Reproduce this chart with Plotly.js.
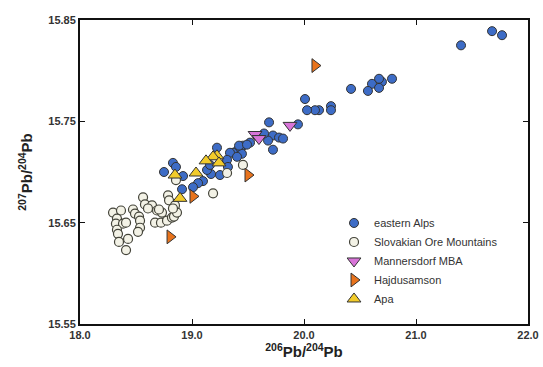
<!DOCTYPE html>
<html>
<head>
<meta charset="utf-8">
<script src="https://cdn.plot.ly/plotly-3.0.1.min.js"></script>
<style>html,body{margin:0;padding:0;background:#fff;}#chart{width:543px;height:367px;}</style>
</head>
<body>
<div id="chart"></div>
<script>
// eastern Alps
const alpsX = [21.679,21.768,21.402,20.786,20.696,20.670,20.607,20.670,20.571,20.420,20.241,20.241,20.134,20.098,20.027,20.009,19.946,19.688,19.723,19.777,19.813,19.723,19.679,19.643,19.518,19.455,19.429,19.402,19.366,19.446,19.223,18.830,18.857,18.750,18.920,19.339,19.420,19.491,19.402,19.313,19.321,19.250,19.170,19.134,19.098,19.054,19.009,18.911,19.161];
const alpsY = [15.839,15.835,15.825,15.792,15.789,15.792,15.787,15.783,15.780,15.782,15.765,15.761,15.761,15.761,15.761,15.772,15.747,15.749,15.736,15.734,15.733,15.722,15.731,15.738,15.729,15.726,15.722,15.721,15.719,15.718,15.724,15.709,15.705,15.700,15.696,15.719,15.726,15.727,15.715,15.712,15.705,15.697,15.698,15.702,15.691,15.689,15.685,15.683,15.707];
// Slovakian Ore Mountains
const slovX = [18.295,18.366,18.330,18.321,18.384,18.411,18.330,18.339,18.429,18.348,18.411,18.473,18.491,18.527,18.536,18.536,18.518,18.563,18.580,18.643,18.607,18.688,18.732,18.670,18.723,18.777,18.821,18.839,18.786,18.795,18.848,18.866,18.705,18.830,19.188,19.313,19.455,18.857];
const slovY = [15.660,15.662,15.654,15.649,15.649,15.650,15.643,15.639,15.634,15.631,15.623,15.663,15.659,15.656,15.652,15.645,15.641,15.675,15.668,15.667,15.664,15.662,15.660,15.650,15.650,15.652,15.655,15.656,15.677,15.672,15.667,15.660,15.663,15.664,15.679,15.699,15.707,15.692];
// Mannersdorf MBA
const mannX = [19.875,19.563,19.598];
const mannY = [15.746,15.737,15.733];
// Hajdusamson
const hajdX = [20.098,19.500,19.009,18.804];
const hajdY = [15.805,15.697,15.676,15.636];
// Apa
const apaX = [19.223,19.188,19.125,19.241,19.036,18.848,18.893];
const apaY = [15.716,15.715,15.711,15.709,15.699,15.697,15.674];

const xTicks = [18.0,19.0,20.0,21.0,22.0];
const yTicks = [15.55,15.65,15.75,15.85];

const ml = {color:'#333', width:1};
const traces = [
  {x:alpsX, y:alpsY, name:'eastern Alps', mode:'markers', type:'scatter',
   marker:{symbol:'circle', size:9, color:'#3d6cc6', line:ml}},
  {x:slovX, y:slovY, name:'Slovakian Ore Mountains', mode:'markers', type:'scatter',
   marker:{symbol:'circle', size:9, color:'#f3f2e6', line:{color:'#44443a', width:1.2}}},
  {x:mannX, y:mannY, name:'Mannersdorf MBA', mode:'markers', type:'scatter',
   marker:{symbol:'triangle-down', size:12, color:'#d874d8', line:ml}},
  {x:hajdX, y:hajdY, name:'Hajdusamson', mode:'markers', type:'scatter',
   marker:{symbol:'triangle-right', size:12, color:'#e8731c', line:ml}},
  {x:apaX, y:apaY, name:'Apa', mode:'markers', type:'scatter',
   marker:{symbol:'triangle-up', size:12, color:'#f2cb2a', line:ml}}
];

const tf = {family:'Liberation Sans, Arial, sans-serif', size:11, color:'#333', weight:'bold'};
const layout = {
  width:543, height:367,
  margin:{l:80, r:15, t:20, b:43},
  paper_bgcolor:'#fff', plot_bgcolor:'#fff',
  showlegend:true,
  legend:{x:0.567, y:0.38, xanchor:'left', yanchor:'top', bgcolor:'rgba(0,0,0,0)',
    font:{family:'Liberation Sans, Arial, sans-serif', size:11, color:'#333'}, tracegroupgap:0},
  xaxis:{range:[18,22], tickvals:xTicks, ticktext:xTicks.map(v=>v.toFixed(1)),
    ticks:'inside', ticklen:5, tickcolor:'#111', mirror:'ticks', showline:true, linecolor:'#111', linewidth:2,
    showgrid:false, zeroline:false, tickfont:tf,
    title:{text:'<sup>206</sup>Pb/<sup>204</sup>Pb', standoff:6,
      font:{family:'Liberation Sans, Arial, sans-serif', size:15, color:'#222', weight:'bold'}}},
  yaxis:{range:[15.55,15.85], tickvals:yTicks, ticktext:yTicks.map(v=>v.toFixed(2)),
    ticks:'inside', ticklen:5, tickcolor:'#111', mirror:'ticks', showline:true, linecolor:'#111', linewidth:2,
    showgrid:false, zeroline:false, tickfont:tf,
    title:{text:'<sup>207</sup>Pb/<sup>204</sup>Pb', standoff:12,
      font:{family:'Liberation Sans, Arial, sans-serif', size:15, color:'#222', weight:'bold'}}}
};
Plotly.newPlot('chart', traces, layout, {displayModeBar:false, staticPlot:true});
</script>
</body>
</html>
